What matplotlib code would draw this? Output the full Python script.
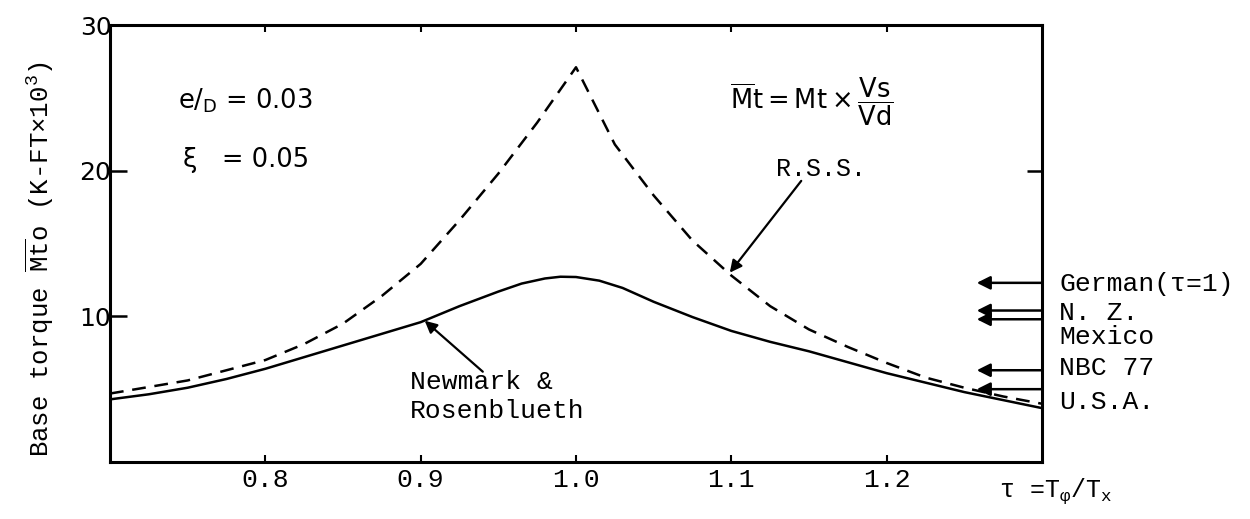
import matplotlib
matplotlib.use("Agg")
import matplotlib.pyplot as plt

# Period ratio tau = T_phi / T_x and base torque (K-FT x 10^3)
tau_rss = [0.70, 0.75, 0.80, 0.825, 0.85, 0.875, 0.90, 0.925, 0.95, 0.975, 1.00,
           1.025, 1.05, 1.075, 1.10, 1.125, 1.15, 1.175, 1.20, 1.225, 1.25, 1.275, 1.30]
torque_rss = [4.7, 5.6, 7.0, 8.1, 9.5, 11.4, 13.6, 16.6, 19.8, 23.3, 27.1,
              21.8, 18.3, 15.2, 12.8, 10.7, 9.1, 7.9, 6.8, 5.8, 5.1, 4.5, 4.0]

tau_nr = [0.70, 0.725, 0.75, 0.775, 0.80, 0.825, 0.85, 0.875, 0.90, 0.925, 0.95,
          0.965, 0.98, 0.99, 1.00, 1.015, 1.03, 1.05, 1.075, 1.10, 1.125, 1.15,
          1.175, 1.20, 1.225, 1.25, 1.275, 1.30]
torque_nr = [4.3, 4.65, 5.1, 5.7, 6.4, 7.2, 8.0, 8.8, 9.6, 10.7, 11.7,
             12.25, 12.6, 12.72, 12.7, 12.45, 11.95, 11.0, 9.95, 9.0, 8.25, 7.6,
             6.85, 6.1, 5.45, 4.8, 4.25, 3.7]

# Code-specified base torques
code_names = ["German(τ=1)", "N. Z.", "Mexico", "NBC 77", "U.S.A."]
code_values = [12.3, 10.4, 9.8, 6.3, 5.0]
code_label_y = [12.25, 10.2, 8.6, 6.45, 4.1]

x_ticks = [0.8, 0.9, 1.0, 1.1, 1.2]
x_tick_labels = ["0.8", "0.9", "1.0", "1.1", "1.2"]
y_ticks = [10, 20, 30]
y_tick_labels = ["10", "20", "30"]

MONO = "Liberation Mono"
SANS = "DejaVu Sans"

fig = plt.figure(figsize=(12.5, 5.19), dpi=100, facecolor="white")
ax = fig.add_axes([0.088, 0.1098, 0.7456, 0.842])
ax.set_xlim(0.7, 1.3)
ax.set_ylim(0, 30)

ax.plot(tau_nr, torque_nr, color="black", lw=1.8, solid_capstyle="round")
ax.plot(tau_rss, torque_rss, color="black", lw=1.8, dashes=(5.5, 3.5))

for s in ax.spines.values():
    s.set_linewidth(2.2)

ax.set_xticks(x_ticks)
ax.set_xticklabels(x_tick_labels, fontfamily=MONO, fontsize=19)
ax.set_yticks(y_ticks)
ax.set_yticklabels(y_tick_labels, fontfamily=SANS, fontsize=18)
ax.tick_params(axis="x", direction="in", length=5, width=1.5, pad=4)
ax.tick_params(axis="y", direction="in", length=12, width=1.8, pad=-1)

top = ax.secondary_xaxis("top")
top.set_xticks(x_ticks)
top.set_xticklabels([])
top.tick_params(direction="in", length=5, width=1.5)
right = ax.secondary_yaxis("right")
right.set_yticks([20])
right.set_yticklabels([])
right.tick_params(direction="in", length=11, width=1.8)

# Axis titles
fig.text(0.032, 0.5, r"Base torque $\mathregular{\overline{Mt}}$o (K-FT×10$\mathregular{^3}$)",
         rotation=90, ha="center", va="center", fontfamily=MONO, fontsize=18.5)
ax.text(1.272, -1.0, r"τ =T$\mathregular{_φ}$/T$\mathregular{_x}$",
        ha="left", va="top", fontfamily=MONO, fontsize=18, clip_on=False)

# Parameters
ax.text(0.744, 24.8, r"e$\mathregular{/_D}$ = 0.03", ha="left", va="center",
        fontfamily=SANS, fontsize=18.5)
ax.text(0.747, 20.7, "ξ   = 0.05", ha="left", va="center", fontfamily=SANS, fontsize=18.5)
ax.text(1.099, 24.7, r"$\mathregular{\overline{M}t = Mt \times \dfrac{Vs}{Vd}}$",
        ha="left", va="center", fontfamily=SANS, fontsize=18.5)

# Curve labels
ax.text(1.129, 20.1, "R.S.S.", ha="left", va="center", fontfamily=MONO, fontsize=18)
ax.annotate("", xy=(1.099, 13.0), xytext=(1.145, 19.3),
            arrowprops=dict(arrowstyle="-|>", color="black", lw=1.6,
                            mutation_scale=18, shrinkA=0, shrinkB=0))
ax.text(0.893, 4.5, "Newmark &\nRosenblueth", ha="left", va="center",
        fontfamily=MONO, fontsize=19, linespacing=1.3)
ax.annotate("", xy=(0.9026, 9.7), xytext=(0.94, 6.2),
            arrowprops=dict(arrowstyle="-|>", color="black", lw=1.6,
                            mutation_scale=18, shrinkA=0, shrinkB=0))

# Code values: arrows from the right edge with labels outside
for name, val, ly in zip(code_names, code_values, code_label_y):
    ax.annotate("", xy=(1.258, val), xytext=(1.3, val),
                arrowprops=dict(arrowstyle="-|>", color="black", lw=1.8,
                                mutation_scale=20, shrinkA=0, shrinkB=0),
                annotation_clip=False)
    ax.text(1.311, ly, name, ha="left", va="center", fontfamily=MONO,
            fontsize=19, clip_on=False)

fig.savefig("out.png", dpi=100, facecolor="white")
